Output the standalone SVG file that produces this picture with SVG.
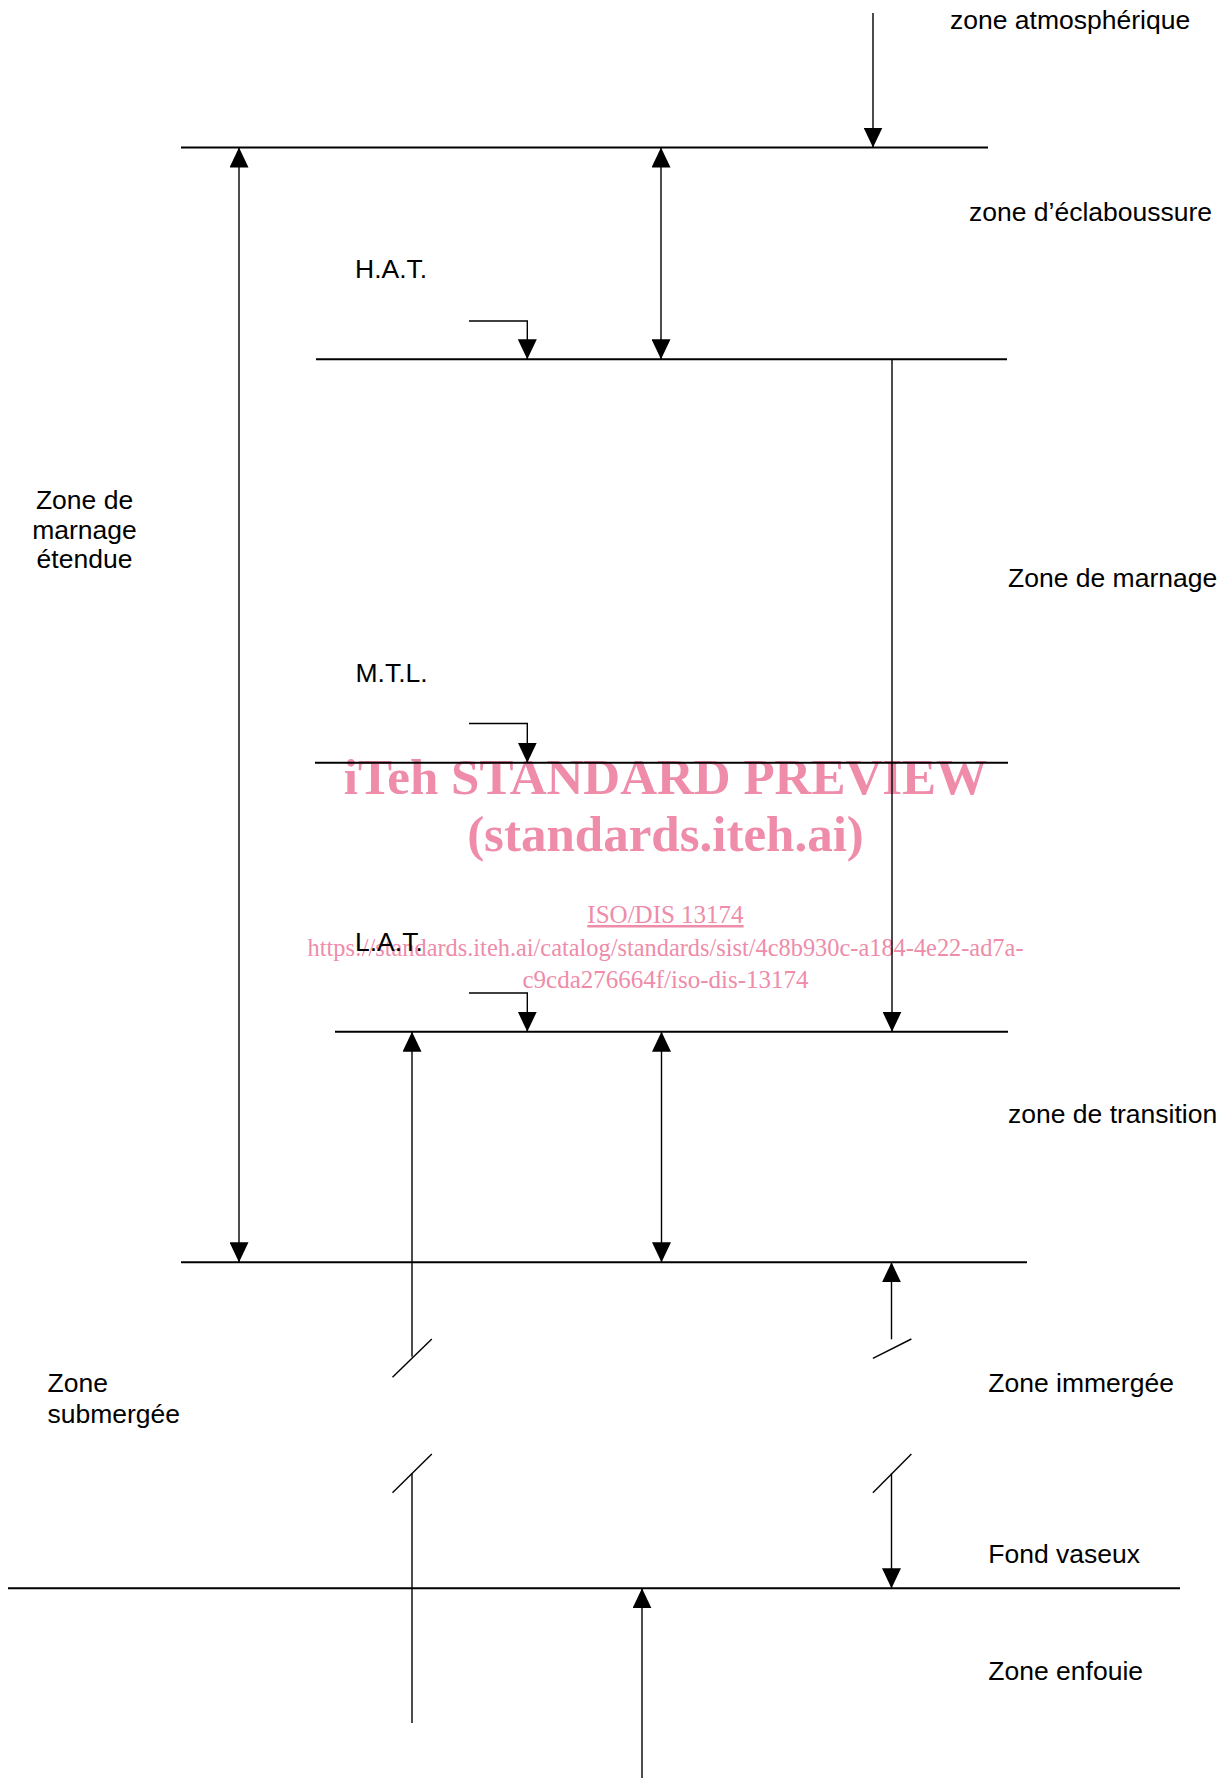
<svg xmlns="http://www.w3.org/2000/svg" width="1225" height="1778" viewBox="0 0 1225 1778">
<style>
.lbl{font-family:"Liberation Sans",Arial,sans-serif;font-size:26.5px;fill:#000}
.wm{font-family:"Liberation Serif","Times New Roman",serif;fill:#EE8CAA}
.wmb{font-size:51px;font-weight:bold}
.wms{font-size:25px}
.lvl{stroke:#000;stroke-width:2;fill:none}
.con{stroke:#000;stroke-width:1.4;fill:none}
</style>
<defs>
<marker id="ah" markerUnits="userSpaceOnUse" markerWidth="20" markerHeight="19" refX="20" refY="9.5" orient="auto-start-reverse" viewBox="0 0 20 19">
<path d="M0,0 L20,9.5 L0,19 z" fill="#000"/>
</marker>
</defs>
<rect width="1225" height="1778" fill="#fff"/>
<g id="watermark" text-anchor="middle" class="wm">
<text class="wmb" x="665.5" y="794">iTeh STANDARD PREVIEW</text>
<text class="wmb" x="665.5" y="851">(standards.iteh.ai)</text>
<text class="wms" x="665.5" y="923" text-decoration="underline">ISO/DIS 13174</text>
<text class="wms" x="665.5" y="956" textLength="716" lengthAdjust="spacingAndGlyphs">https://standards.iteh.ai/catalog/standards/sist/4c8b930c-a184-4e22-ad7a-</text>
<text class="wms" x="665.5" y="988">c9cda276664f/iso-dis-13174</text>
</g>
<g id="levels">
<line id="level-top" class="lvl" x1="181" y1="147.5" x2="988" y2="147.5"/>
<line id="level-hat" class="lvl" x1="316" y1="359.3" x2="1007" y2="359.3"/>
<line id="level-mtl" class="lvl" x1="315" y1="762.7" x2="1008" y2="762.7"/>
<line id="level-lat" class="lvl" x1="335" y1="1031.7" x2="1008" y2="1031.7"/>
<line id="level-low" class="lvl" x1="181" y1="1262.3" x2="1027" y2="1262.3"/>
<line id="level-bed" class="lvl" x1="8" y1="1588.3" x2="1180" y2="1588.3"/>
</g>
<g id="connectors">
<line class="con" x1="873" y1="13" x2="873" y2="147.5" marker-end="url(#ah)"/>
<line class="con" x1="239" y1="147.5" x2="239" y2="1262.3" marker-start="url(#ah)" marker-end="url(#ah)"/>
<line class="con" x1="661" y1="147.5" x2="661" y2="359.3" marker-start="url(#ah)" marker-end="url(#ah)"/>
<path class="con" d="M469 321 H527.3 V359.3" marker-end="url(#ah)"/>
<line class="con" x1="892" y1="359.3" x2="892" y2="1031.7" marker-end="url(#ah)"/>
<path class="con" d="M469 723.5 H527.3 V762.7" marker-end="url(#ah)"/>
<path class="con" d="M469 993 H527.3 V1031.7" marker-end="url(#ah)"/>
<line class="con" x1="412" y1="1356.7" x2="412" y2="1031.7" marker-end="url(#ah)"/>
<line class="con" x1="661.5" y1="1031.7" x2="661.5" y2="1262.3" marker-start="url(#ah)" marker-end="url(#ah)"/>
<line class="con" x1="891.5" y1="1339.3" x2="891.5" y2="1262.3" marker-end="url(#ah)"/>
<line class="con" x1="392.5" y1="1377.3" x2="431.8" y2="1339"/>
<line class="con" x1="872.9" y1="1358.3" x2="911.4" y2="1339"/>
<line class="con" x1="392.5" y1="1492.7" x2="431.8" y2="1454"/>
<line class="con" x1="872.9" y1="1492.7" x2="911.4" y2="1454"/>
<line class="con" x1="412" y1="1473.3" x2="412" y2="1723"/>
<line class="con" x1="891.5" y1="1473.3" x2="891.5" y2="1588.3" marker-end="url(#ah)"/>
<line class="con" x1="642" y1="1778" x2="642" y2="1588.3" marker-end="url(#ah)"/>
</g>
<g id="labels" class="lbl">
<text id="t-atmo" x="950" y="28.5">zone atmosphérique</text>
<text id="t-ecla" x="969" y="220.7">zone d’éclaboussure</text>
<text id="t-hat" x="355" y="278.3">H.A.T.</text>
<text id="t-ext" text-anchor="middle"><tspan x="84.5" y="509.3">Zone de</tspan><tspan x="84.5" y="538.5">marnage</tspan><tspan x="84.5" y="568">étendue</tspan></text>
<text id="t-marn" x="1008" y="586.7">Zone de marnage</text>
<text id="t-mtl" x="355.5" y="682">M.T.L.</text>
<text id="t-lat" x="355" y="951">L.A.T.</text>
<text id="t-trans" x="1008" y="1123">zone de transition</text>
<text id="t-sub"><tspan x="47.5" y="1392.3">Zone</tspan><tspan x="47.5" y="1422.7">submergée</tspan></text>
<text id="t-imm" x="988.3" y="1392">Zone immergée</text>
<text id="t-fond" x="988.3" y="1563">Fond vaseux</text>
<text id="t-enf" x="988.3" y="1680">Zone enfouie</text>
</g>
</svg>
